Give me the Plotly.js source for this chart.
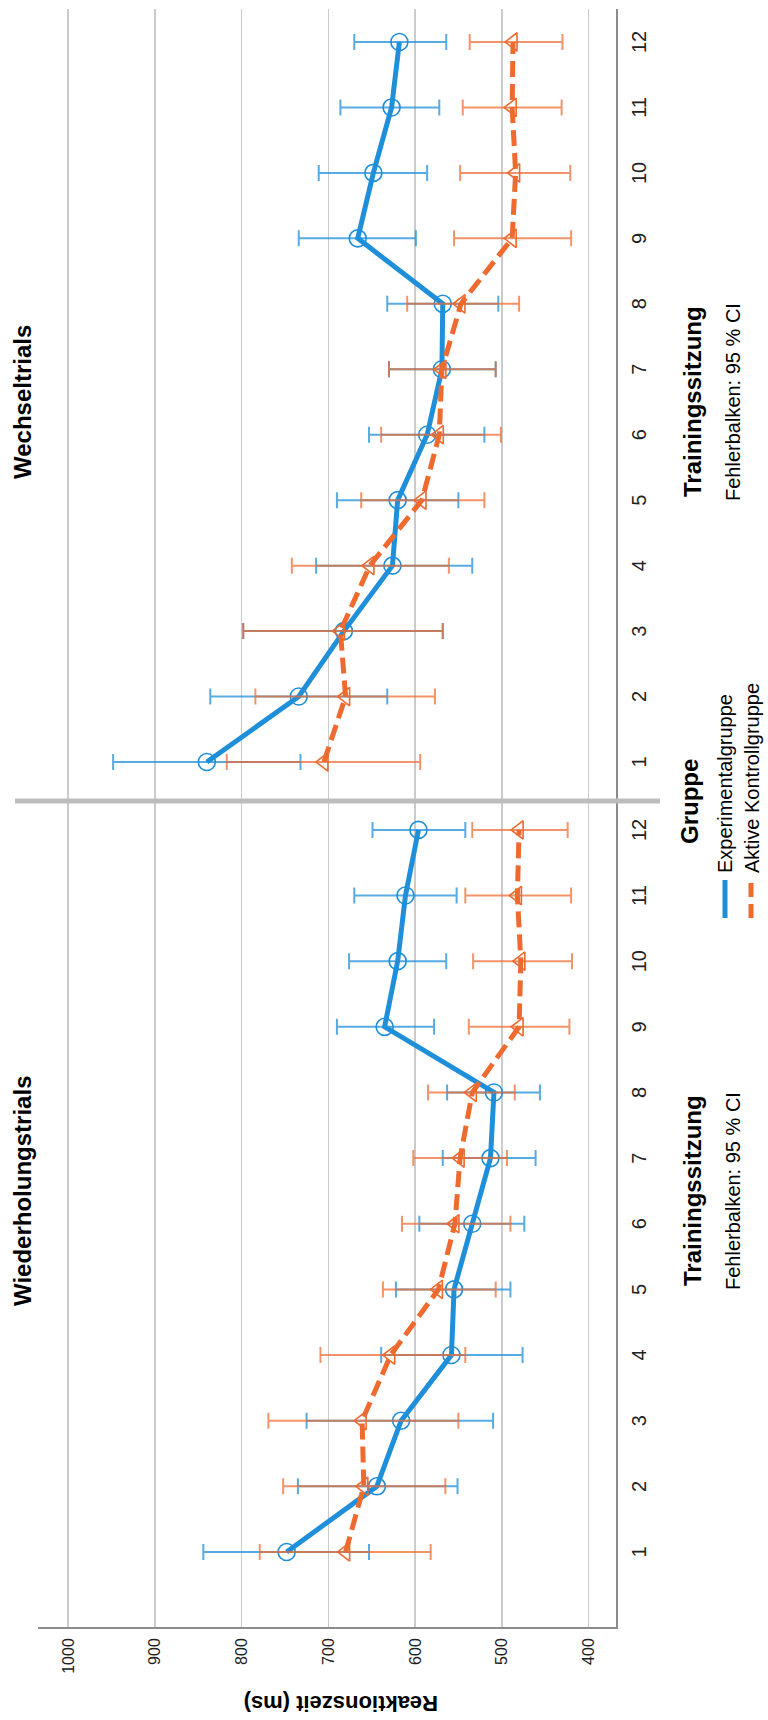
<!DOCTYPE html>
<html>
<head>
<meta charset="utf-8">
<script src="https://cdn.plot.ly/plotly-3.0.1.min.js"></script>
<style>
  html, body { margin: 0; padding: 0; background: #ffffff; width: 768px; height: 1720px; overflow: hidden; }
  /* the chart is laid out landscape and turned a quarter turn counter-clockwise */
  #chart {
    position: absolute; left: 0; top: 0;
    width: 1720px; height: 768px;
    transform-origin: 0 0;
    transform: translate(0px, 1720px) rotate(-90deg);
  }
</style>
</head>
<body>
<div id="chart"></div>
<script>
// Trainingssitzungen
const sessions = [1, 2, 3, 4, 5, 6, 7, 8, 9, 10, 11, 12];
const sessionLabels = ["1", "2", "3", "4", "5", "6", "7", "8", "9", "10", "11", "12"];
const groupNames = ["Experimentalgruppe", "Aktive Kontrollgruppe"];
const panelNames = ["Wiederholungstrials", "Wechseltrials"];
const rtTicks = [400, 500, 600, 700, 800, 900, 1000];

// Wiederholungstrials: Mittelwert und 95 %-KI (untere / obere Grenze)
const wiedExpMean = [748, 644, 616, 558, 555, 534, 513, 509, 635, 620, 611, 596];
const wiedExpLow  = [653, 551, 510, 476, 490, 474, 461, 456, 578, 564, 552, 542];
const wiedExpHigh = [844, 735, 725, 639, 622, 595, 568, 563, 690, 676, 670, 649];

const wiedKonMean = [680, 659, 661, 628, 573, 554, 548, 534, 480, 478, 482, 480];
const wiedKonLow  = [582, 565, 550, 542, 507, 490, 494, 485, 422, 419, 420, 424];
const wiedKonHigh = [779, 752, 769, 709, 637, 615, 602, 585, 538, 533, 542, 534];

// Wechseltrials
const wechExpMean = [840, 734, 682, 626, 620, 586, 569, 568, 666, 648, 627, 618];
const wechExpLow  = [732, 632, 568, 534, 550, 520, 507, 504, 599, 586, 572, 564];
const wechExpHigh = [948, 836, 798, 714, 690, 653, 630, 632, 734, 711, 686, 670];

const wechKonMean = [705, 680, 686, 652, 592, 572, 569, 547, 488, 484, 488, 487];
const wechKonLow  = [594, 577, 568, 561, 520, 501, 507, 480, 420, 421, 431, 430];
const wechKonHigh = [817, 784, 798, 742, 662, 639, 630, 609, 555, 548, 545, 537];

const BLUE = "#1f8fda";
const ORANGE = "#ee6a2f";
const BLUE_ERR = "rgba(31,143,218,0.75)";
const ORANGE_ERR = "rgba(238,106,47,0.72)";
const FONT = "Liberation Sans, Arial, sans-serif";

function groupTrace(mean, low, high, xaxis, isExp) {
  return {
    x: sessions,
    y: mean,
    xaxis: xaxis,
    yaxis: "y",
    type: "scatter",
    mode: "lines+markers",
    showlegend: false,
    cliponaxis: false,
    line: isExp
      ? { color: BLUE, width: 5 }
      : { color: ORANGE, width: 5, dash: "16px,7px" },
    marker: {
      symbol: isExp ? "circle-open" : "triangle-up-open",
      size: isExp ? 17 : 16,
      color: isExp ? BLUE : ORANGE,
      line: { width: 1.6, color: isExp ? BLUE : ORANGE }
    },
    error_y: {
      type: "data",
      symmetric: false,
      array: high.map((h, i) => h - mean[i]),
      arrayminus: low.map((l, i) => mean[i] - l),
      color: isExp ? BLUE_ERR : ORANGE_ERR,
      thickness: 2,
      width: 8
    }
  };
}

const data = [
  groupTrace(wiedExpMean, wiedExpLow, wiedExpHigh, "x", true),
  groupTrace(wiedKonMean, wiedKonLow, wiedKonHigh, "x", false),
  groupTrace(wechExpMean, wechExpLow, wechExpHigh, "x2", true),
  groupTrace(wechKonMean, wechKonLow, wechKonHigh, "x2", false)
];

// pixel helpers for the landscape canvas (plot area: 93..1711 x 38..616)
const PL = 93, PR = 1711, PT = 38, PB = 616;
const px = X => (X - PL) / (PR - PL);
const py = Y => (PB - Y) / (PB - PT);
const split = px(919);

const catAxis = {
  tickmode: "array",
  tickvals: sessions,
  ticktext: sessionLabels,
  showgrid: false,
  zeroline: false,
  showline: true,
  linecolor: "#8c8c8c",
  linewidth: 2,
  ticks: "outside",
  ticklen: 4,
  tickcolor: "rgba(0,0,0,0)",
  tickfont: { family: FONT, size: 20, color: "#222" },
  fixedrange: true
};

const annotations = [];
function label(text, X, Y, size, bold, anchor) {
  annotations.push({
    text: bold ? "<b>" + text + "</b>" : text,
    xref: "paper", yref: "paper",
    x: px(X), y: py(Y),
    xanchor: anchor || "center", yanchor: "middle",
    showarrow: false,
    font: { family: FONT, size: size, color: "#000" }
  });
}
label(panelNames[0], 529, 22, 24, true);
label(panelNames[1], 1318, 22, 24, true);
label("Trainingssitzung", 529, 692, 24, true);
label("Trainingssitzung", 1318, 692, 24, true);
label("Fehlerbalken: 95 % CI", 529, 733, 20, false);
label("Fehlerbalken: 95 % CI", 1318, 733, 20, false);
label("Gruppe", 919, 689, 24, true);
label(groupNames[0], 845, 725, 20, false, "left");
label(groupNames[1], 845, 752, 20, false, "left");
annotations.push({
  text: "<b>Reaktionszeit (ms)</b>",
  xref: "paper", yref: "paper",
  x: px(17), y: py(341),
  xanchor: "center", yanchor: "middle",
  textangle: -90,
  showarrow: false,
  font: { family: FONT, size: 22, color: "#000" }
});

const shapes = [
  // panel divider
  { type: "line", xref: "paper", yref: "paper",
    x0: split, x1: split, y0: py(660), y1: py(15),
    line: { color: "#bdbdbd", width: 5 } },
  // legend keys
  { type: "line", xref: "paper", yref: "paper",
    x0: px(802), x1: px(840), y0: py(725), y1: py(725),
    line: { color: BLUE, width: 5 } },
  { type: "line", xref: "paper", yref: "paper",
    x0: px(802), x1: px(840), y0: py(751), y1: py(751),
    line: { color: ORANGE, width: 5, dash: "14px,7px" } }
];

const layout = {
  width: 1720,
  height: 768,
  margin: { l: PL, r: 1720 - PR, t: PT, b: 768 - PB, pad: 0 },
  paper_bgcolor: "#ffffff",
  plot_bgcolor: "#ffffff",
  font: { family: FONT, color: "#000" },
  showlegend: false,
  xaxis: Object.assign({}, catAxis, { domain: [0, split], range: [-0.143, 12.44], anchor: "y" }),
  xaxis2: Object.assign({}, catAxis, { domain: [split, 1], range: [0.404, 12.504], anchor: "y" }),
  yaxis: {
    range: [368.3, 1034.6],
    tickmode: "array",
    tickvals: rtTicks,
    ticktext: rtTicks.map(String),
    showgrid: true,
    gridcolor: "#cbcbcb",
    gridwidth: 1.5,
    zeroline: false,
    showline: true,
    linecolor: "#8c8c8c",
    linewidth: 2,
    ticks: "outside",
    ticklen: 6,
    tickcolor: "rgba(0,0,0,0)",
    tickfont: { family: FONT, size: 16, color: "#222" },
    fixedrange: true
  },
  shapes: shapes,
  annotations: annotations
};

Plotly.newPlot("chart", data, layout, { staticPlot: true, displayModeBar: false });
</script>
</body>
</html>
